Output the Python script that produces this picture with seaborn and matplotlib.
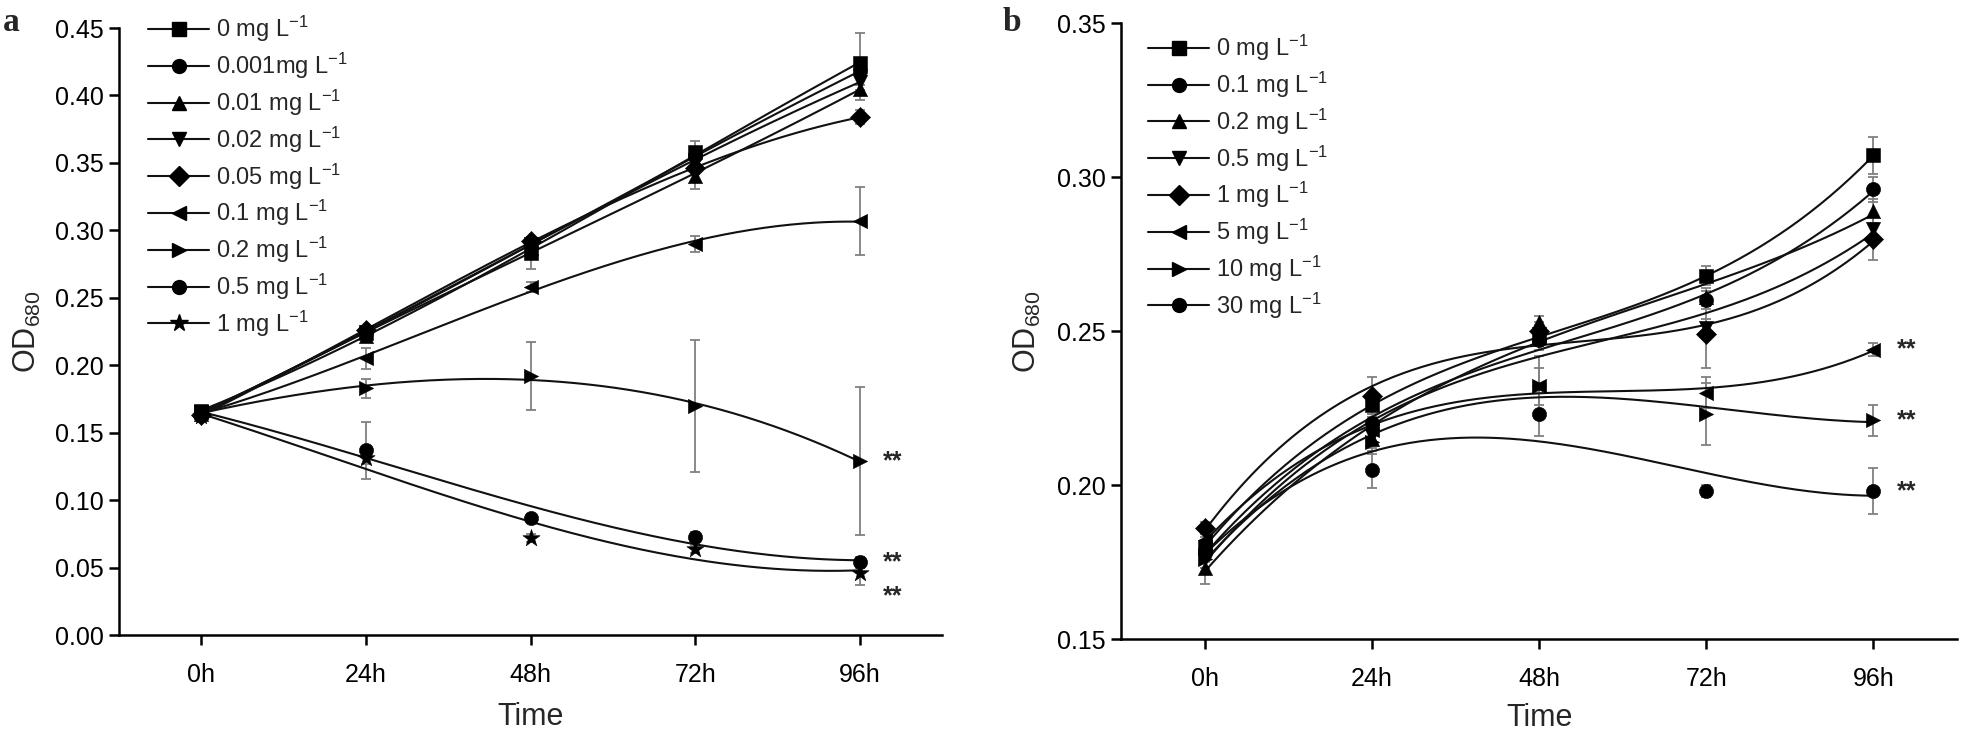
import numpy as np
import matplotlib
matplotlib.use("Agg")
import matplotlib.pyplot as plt
import seaborn as sns
from matplotlib.lines import Line2D

# data
times = [0, 24, 48, 72, 96]
tick_labels = ["0h", "24h", "48h", "72h", "96h"]

a_labels = ["0 mg L$^{-1}$", "0.001mg L$^{-1}$", "0.01 mg L$^{-1}$", "0.02 mg L$^{-1}$",
            "0.05 mg L$^{-1}$", "0.1 mg L$^{-1}$", "0.2 mg L$^{-1}$", "0.5 mg L$^{-1}$", "1 mg L$^{-1}$"]
a_markers = ["s", "o", "^", "v", "D", "<", ">", "o", "*"]
a_means = [
    [0.166, 0.224, 0.283, 0.358, 0.424],
    [0.165, 0.225, 0.289, 0.355, 0.418],
    [0.164, 0.222, 0.287, 0.340, 0.405],
    [0.165, 0.225, 0.290, 0.352, 0.410],
    [0.163, 0.226, 0.292, 0.346, 0.384],
    [0.165, 0.205, 0.258, 0.290, 0.307],
    [0.165, 0.183, 0.192, 0.170, 0.129],
    [0.164, 0.137, 0.087, 0.073, 0.054],
    [0.162, 0.131, 0.072, 0.064, 0.046],
]
a_errs = [
    [0.003, 0.003, 0.012, 0.008, 0.022],
    [0.003, 0.003, 0.004, 0.004, 0.010],
    [0.002, 0.003, 0.004, 0.009, 0.008],
    [0.002, 0.003, 0.004, 0.004, 0.006],
    [0.002, 0.003, 0.003, 0.004, 0.005],
    [0.002, 0.008, 0.004, 0.006, 0.025],
    [0.002, 0.007, 0.025, 0.049, 0.055],
    [0.002, 0.021, 0.003, 0.003, 0.004],
    [0.002, 0.004, 0.003, 0.003, 0.009],
]
a_stars = [(6, 0.129), (7, 0.054), (8, 0.029)]

b_labels = ["0 mg L$^{-1}$", "0.1 mg L$^{-1}$", "0.2 mg L$^{-1}$", "0.5 mg L$^{-1}$",
            "1 mg L$^{-1}$", "5 mg L$^{-1}$", "10 mg L$^{-1}$", "30 mg L$^{-1}$"]
b_markers = ["s", "o", "^", "v", "D", "<", ">", "o"]
b_means = [
    [0.180, 0.226, 0.248, 0.268, 0.307],
    [0.178, 0.220, 0.247, 0.260, 0.296],
    [0.173, 0.215, 0.253, 0.261, 0.289],
    [0.176, 0.216, 0.249, 0.251, 0.283],
    [0.186, 0.229, 0.250, 0.249, 0.280],
    [0.182, 0.218, 0.232, 0.230, 0.244],
    [0.176, 0.214, 0.232, 0.223, 0.221],
    [0.179, 0.205, 0.223, 0.198, 0.198],
]
b_errs = [
    [0.003, 0.004, 0.003, 0.003, 0.006],
    [0.003, 0.003, 0.003, 0.003, 0.004],
    [0.005, 0.003, 0.002, 0.003, 0.004],
    [0.003, 0.003, 0.003, 0.003, 0.004],
    [0.002, 0.006, 0.003, 0.011, 0.007],
    [0.003, 0.004, 0.010, 0.005, 0.002],
    [0.003, 0.004, 0.006, 0.010, 0.005],
    [0.003, 0.006, 0.007, 0.002, 0.0075],
]
b_stars = [(5, 0.244), (6, 0.221), (7, 0.198)]

sns.set_theme(style="ticks")
plt.rcParams["font.family"] = ["Liberation Sans", "DejaVu Sans"]
plt.rcParams["mathtext.fontset"] = "custom"
plt.rcParams["mathtext.rm"] = "Liberation Sans"
plt.rcParams["mathtext.it"] = "Liberation Sans:italic"
plt.rcParams["mathtext.default"] = "regular"

fig = plt.figure(figsize=(19.61, 7.32), dpi=100)
ax_a = fig.add_axes([0.0607, 0.1325, 0.4197, 0.8292])
ax_b = fig.add_axes([0.5717, 0.1270, 0.4263, 0.8415])

dense = np.linspace(0, 96, 200)


def draw_panel(ax, labels, markers, means, errs, stars):
    handles = []
    for lab, m, y, e in zip(labels, markers, means, errs):
        ax.errorbar(times, y, yerr=e, fmt="none", ecolor="#808080",
                    elinewidth=1.3, capsize=3.6, capthick=1.3, zorder=1)
        # smooth curve like the original software
        coef = np.polyfit(times, y, 3)
        sns.lineplot(x=dense, y=np.polyval(coef, dense), ax=ax, color="#111111",
                     lw=1.5, sort=False, estimator=None, zorder=2)
        size = 170 if m == "*" else 105
        sns.scatterplot(x=times, y=y, ax=ax, marker=m, s=size, color="black",
                        edgecolor="black", linewidth=0.4, zorder=3)
        handles.append(Line2D([], [], color="#111111", lw=1.5, marker=m,
                              markersize=13 if m == "*" else 10,
                              markerfacecolor="black", markeredgecolor="black"))
    for idx, yv in stars:
        ax.text(100.8, yv, "**", ha="center", va="center", fontsize=18,
                fontweight="bold")
    ax.set_xlim(-12, 108)
    ax.set_xticks(times)
    ax.set_xticklabels(tick_labels)
    sns.despine(ax=ax)
    for s in ["left", "bottom"]:
        ax.spines[s].set_linewidth(1.8)
        ax.spines[s].set_color("black")
    ax.tick_params(axis="both", length=7, width=1.8, colors="black", labelsize=18)
    ax.tick_params(axis="x", pad=13)
    ax.tick_params(axis="y", pad=4)
    ax.set_xlabel("Time", fontsize=22, va="top")
    ax.set_ylabel("OD$_{680}$", fontsize=22)
    return handles


h_a = draw_panel(ax_a, a_labels, a_markers, a_means, a_errs, a_stars)
ax_a.set_ylim(0, 0.45)
ax_a.set_yticks(np.arange(0, 0.451, 0.05))
ax_a.yaxis.set_major_formatter(matplotlib.ticker.FormatStrFormatter("%.2f"))
ax_a.xaxis.set_label_coords(0.5, -0.11)
ax_a.yaxis.set_label_coords(-0.092, 0.5)
ax_a.legend(h_a, a_labels, loc="upper left", bbox_to_anchor=(0.035, 1.023),
            frameon=False, fontsize=17, handlelength=2.6, handletextpad=0.3,
            labelspacing=0.28, borderpad=0, borderaxespad=0)

h_b = draw_panel(ax_b, b_labels, b_markers, b_means, b_errs, b_stars)
ax_b.set_ylim(0.15, 0.35)
ax_b.set_yticks(np.arange(0.15, 0.351, 0.05))
ax_b.yaxis.set_major_formatter(matplotlib.ticker.FormatStrFormatter("%.2f"))
ax_b.xaxis.set_label_coords(0.5, -0.104)
ax_b.yaxis.set_label_coords(-0.094, 0.5)
ax_b.legend(h_b, b_labels, loc="upper left", bbox_to_anchor=(0.032, 0.984),
            frameon=False, fontsize=17, handlelength=2.6, handletextpad=0.3,
            labelspacing=0.28, borderpad=0, borderaxespad=0)

fig.text(0.0015, 0.99, "a", ha="left", va="top", fontsize=24, fontweight="bold",
         family="Liberation Serif")
fig.text(0.5115, 0.99, "b", ha="left", va="top", fontsize=24, fontweight="bold",
         family="Liberation Serif")

fig.savefig("out.png", dpi=100)
